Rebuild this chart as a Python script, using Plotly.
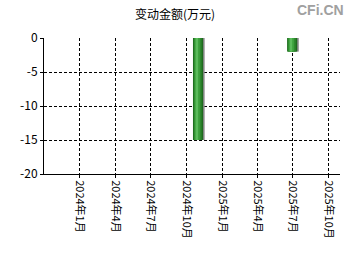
import plotly.graph_objects as go
import pandas as pd

title = "变动金额(万元)"
bar_dates = ["2024-10-31", "2025-06-30"]
bar_values = [-15, -2]
tick_dates = ["2024-01-01", "2024-04-01", "2024-07-01", "2024-10-01",
              "2025-01-01", "2025-04-01", "2025-07-01", "2025-10-01"]
tick_labels = ["2024年1月", "2024年4月", "2024年7月", "2024年10月",
               "2025年1月", "2025年4月", "2025年7月", "2025年10月"]
y_ticks = [0, -5, -10, -15, -20]

DAY = 86400000
xd = pd.to_datetime(bar_dates)

fig = go.Figure()
# shadow
fig.add_trace(go.Bar(x=xd + pd.Timedelta(days=4), y=bar_values, width=26 * DAY,
                     marker=dict(color="#8a8a8a", line=dict(width=0)), hoverinfo="skip"))
# cylinder layers
layers = [(26, "#1e6b1e"), (20, "#2e8a2e"), (13, "#3fa33f"), (6, "#5cbc5c")]
for w, c in layers:
    fig.add_trace(go.Bar(x=xd - pd.Timedelta(days=(26 - w) * 0.15), y=bar_values, width=w * DAY,
                         marker=dict(color=c, line=dict(width=0))))

fig.update_layout(
    width=350, height=260, barmode="overlay", showlegend=False,
    margin=dict(l=44, r=10, t=38, b=86),
    paper_bgcolor="white", plot_bgcolor="white",
    font=dict(family="Noto Sans CJK SC", size=11, color="black"),
    title=dict(text=title, x=0.5, xanchor="center", y=0.943, yanchor="middle",
               font=dict(size=12, color="black")),
    annotations=[dict(text="<b>CFi.CN</b>", xref="paper", yref="paper", x=1.0, y=1.0,
                      xanchor="right", yanchor="bottom", showarrow=False, yshift=18, xshift=6,
                      font=dict(family="Liberation Sans", size=14, color="#a0a0a0"))],
)
fig.update_xaxes(
    type="date", range=["2023-10-01", "2025-10-31"],
    tickvals=tick_dates, ticktext=tick_labels, tickangle=90,
    showgrid=True, gridcolor="black", griddash="3px,2px", gridwidth=1,
    showline=True, linecolor="black", linewidth=1,
    ticks="outside", ticklen=3, tickcolor="black",
    tickfont=dict(size=11), zeroline=False,
)
fig.update_yaxes(
    range=[-20, 0], tickvals=y_ticks, ticktext=[str(v) for v in y_ticks],
    showgrid=True, gridcolor="black", griddash="3px,2px", gridwidth=1,
    showline=True, linecolor="black", linewidth=1,
    ticks="outside", ticklen=3, tickcolor="black",
    tickfont=dict(size=12), zeroline=False,
)
fig.write_html("out.html")
